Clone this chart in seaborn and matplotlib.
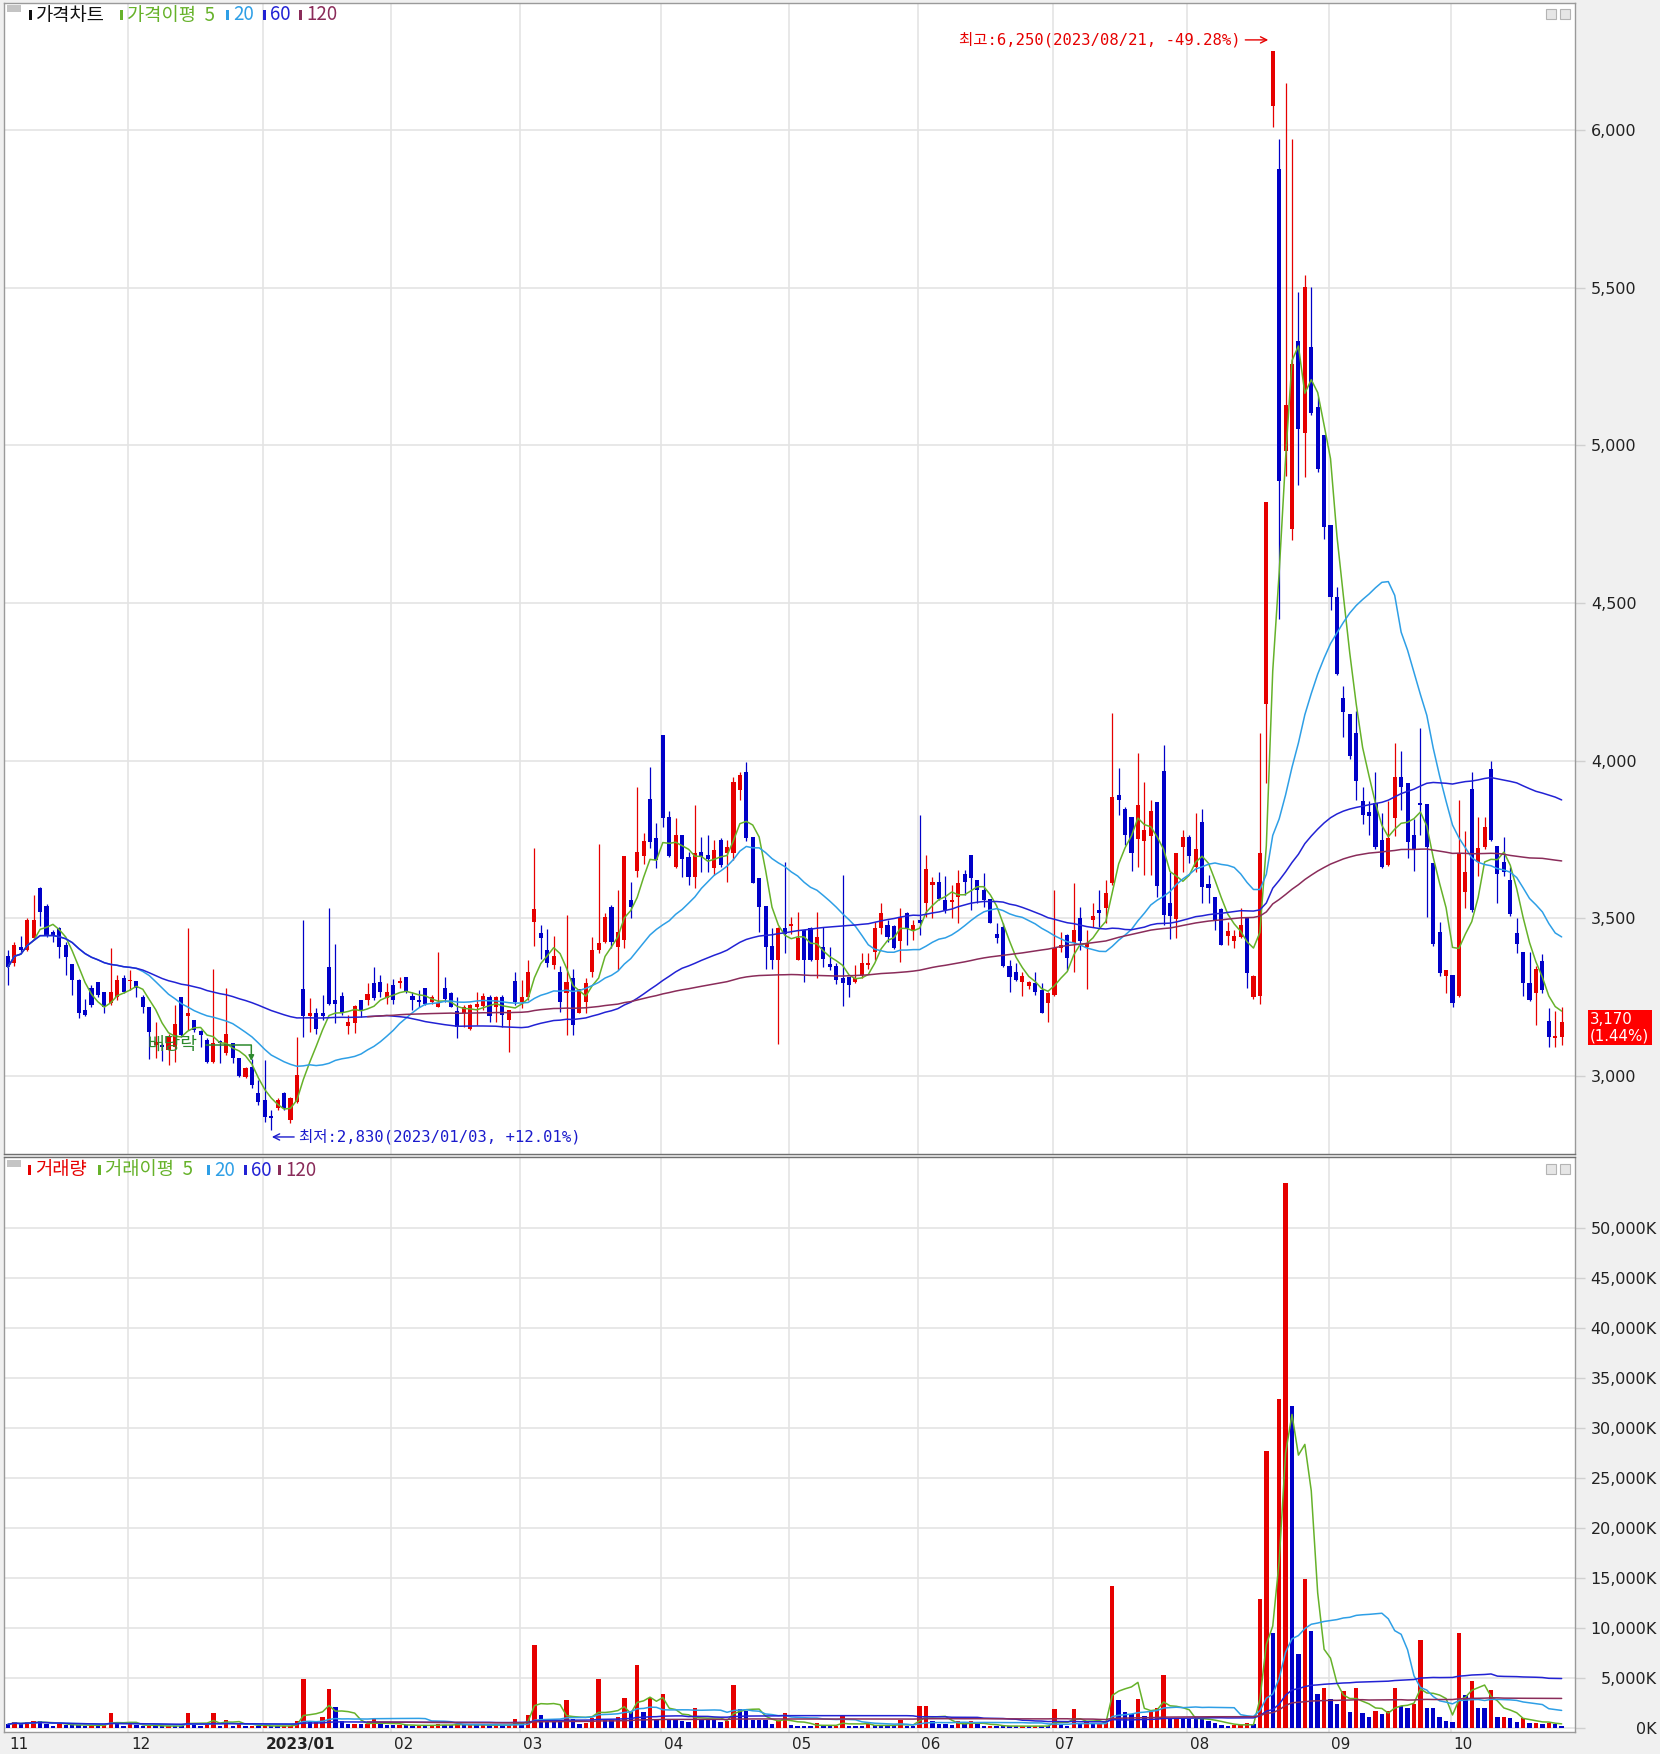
import numpy as np
import pandas as pd
import matplotlib
matplotlib.use("Agg")
import matplotlib.pyplot as plt
import matplotlib.transforms as mtransforms
from matplotlib.patches import Rectangle
import seaborn as sns

# ---------------- data ----------------
opens = [
    3380, 3357, 3410, 3400, 3437, 3597, 3540, 3458, 3470, 3415,
    3354, 3306, 3211, 3278, 3297, 3267, 3233, 3252, 3310, 3300,
    3300, 3252, 3218, 3098, 3100, 3082, 3093, 3252, 3190, 3178,
    3143, 3114, 3045, 3110, 3072, 3104, 3056, 2998, 3030, 2947,
    2924, 2874, 2898, 2945, 2862, 2919, 3275, 3191, 3199, 3199,
    3347, 3241, 3254, 3159, 3167, 3241, 3241, 3294, 3297, 3246,
    3289, 3296, 3313, 3255, 3241, 3278, 3236, 3220, 3278, 3262,
    3207, 3201, 3148, 3220, 3222, 3250, 3220, 3252, 3178, 3302,
    3236, 3252, 3489, 3455, 3400, 3352, 3331, 3262, 3310, 3199,
    3236, 3331, 3400, 3426, 3537, 3410, 3431, 3558, 3651, 3698,
    3877, 3754, 4081, 3820, 3664, 3764, 3696, 3630, 3711, 3701,
    3659, 3748, 3706, 3706, 3907, 3965, 3759, 3627, 3539, 3412,
    3368, 3468, 3476, 3368, 3463, 3468, 3368, 3410, 3355, 3349,
    3310, 3315, 3299, 3320, 3352, 3394, 3468, 3479, 3476, 3429,
    3516, 3461, 3495, 3548, 3606, 3616, 3558, 3553, 3569, 3640,
    3701, 3622, 3590, 3563, 3449, 3474, 3349, 3331, 3299, 3285,
    3296, 3273, 3233, 3257, 3405, 3447, 3421, 3500, 3410, 3495,
    3526, 3532, 3611, 3891, 3846, 3820, 3751, 3746, 3762, 3868,
    3968, 3550, 3497, 3727, 3759, 3662, 3807, 3608, 3569, 3529,
    3444, 3429, 3440, 3500, 3250, 3254, 4180, 6075, 5877, 4983,
    4734, 5329, 5040, 5311, 5120, 5032, 4746, 4520, 4199, 4148,
    4089, 3873, 3837, 3867, 3748, 3668, 3818, 3947, 3930, 3765,
    3867, 3862, 3674, 3458, 3316, 3322, 3254, 3583, 3909, 3680,
    3725, 3973, 3728, 3680, 3623, 3455, 3393, 3294, 3262, 3364,
    3174, 3120, 3125,
]
highs = [
    3400, 3425, 3445, 3500, 3575, 3600, 3545, 3463, 3474, 3426,
    3355, 3307, 3243, 3289, 3297, 3267, 3407, 3320, 3320, 3336,
    3300, 3257, 3218, 3172, 3104, 3135, 3225, 3252, 3470, 3178,
    3146, 3120, 3341, 3114, 3278, 3106, 3056, 3030, 3053, 2987,
    3050, 2892, 2929, 2950, 2934, 3125, 3495, 3246, 3215, 3257,
    3532, 3420, 3267, 3194, 3225, 3241, 3294, 3345, 3320, 3294,
    3307, 3315, 3315, 3267, 3273, 3278, 3257, 3394, 3313, 3267,
    3252, 3225, 3230, 3267, 3262, 3257, 3254, 3257, 3211, 3331,
    3304, 3368, 3722, 3479, 3465, 3444, 3349, 3511, 3341, 3275,
    3310, 3440, 3736, 3518, 3542, 3590, 3698, 3616, 3918, 3770,
    3979, 3801, 4081, 3841, 3817, 3764, 3711, 3859, 3757, 3764,
    3748, 3754, 3748, 3949, 3965, 3997, 3759, 3627, 3539, 3468,
    3474, 3680, 3505, 3521, 3463, 3474, 3521, 3474, 3410, 3357,
    3637, 3315, 3352, 3389, 3389, 3489, 3548, 3495, 3479, 3532,
    3521, 3495, 3828, 3701, 3632, 3648, 3634, 3606, 3653, 3653,
    3701, 3622, 3643, 3563, 3484, 3484, 3368, 3359, 3331, 3302,
    3331, 3294, 3267, 3590, 3458, 3452, 3613, 3537, 3463, 3548,
    3590, 3622, 4150, 3976, 3854, 3822, 4023, 3933, 3875, 3868,
    4050, 3648, 3708, 3780, 3764, 3835, 3846, 3637, 3569, 3532,
    3489, 3463, 3532, 3500, 3320, 4087, 4819, 6250, 5970, 6148,
    5970, 5487, 5541, 5501, 5153, 5032, 4746, 4549, 4236, 4148,
    4159, 3918, 3873, 3964, 3833, 3873, 4055, 4032, 3930, 3816,
    4102, 3862, 3674, 3487, 3337, 3322, 3875, 3776, 3964, 3822,
    3822, 4000, 3728, 3757, 3663, 3500, 3393, 3393, 3350, 3387,
    3216, 3205, 3220,
]
lows = [
    3290, 3350, 3390, 3395, 3430, 3475, 3440, 3426, 3373, 3320,
    3257, 3183, 3190, 3220, 3252, 3199, 3225, 3241, 3262, 3273,
    3252, 3199, 3053, 3056, 3049, 3035, 3045, 3125, 3145, 3141,
    3093, 3043, 3043, 3043, 3067, 3040, 2998, 2993, 2961, 2908,
    2855, 2830, 2892, 2892, 2850, 2914, 3125, 3141, 3135, 3178,
    3225, 3167, 3194, 3135, 3137, 3188, 3225, 3241, 3252, 3230,
    3230, 3278, 3262, 3209, 3218, 3225, 3230, 3218, 3236, 3218,
    3120, 3157, 3146, 3162, 3209, 3172, 3172, 3157, 3077, 3225,
    3215, 3241, 3412, 3370, 3347, 3338, 3204, 3130, 3130, 3199,
    3199, 3315, 3389, 3421, 3405, 3336, 3405, 3500, 3632, 3672,
    3722, 3659, 3791, 3696, 3659, 3632, 3606, 3595, 3648, 3648,
    3637, 3664, 3616, 3685, 3875, 3746, 3611, 3458, 3338, 3338,
    3102, 3389, 3452, 3368, 3299, 3366, 3310, 3347, 3336, 3292,
    3222, 3252, 3294, 3310, 3341, 3368, 3450, 3426, 3402, 3362,
    3416, 3431, 3447, 3505, 3500, 3558, 3518, 3500, 3486, 3574,
    3526, 3548, 3537, 3484, 3421, 3347, 3267, 3302, 3254, 3275,
    3257, 3199, 3172, 3254, 3394, 3336, 3331, 3400, 3275, 3474,
    3474, 3484, 3606, 3828, 3733, 3651, 3662, 3637, 3637, 3569,
    3479, 3434, 3437, 3648, 3674, 3648, 3548, 3548, 3463, 3416,
    3416, 3405, 3437, 3278, 3243, 3230, 3930, 6010, 4449, 4904,
    4698, 4874, 4898, 5095, 4916, 4704, 4479, 4270, 4075, 4004,
    3875, 3799, 3765, 3720, 3659, 3666, 3762, 3845, 3691, 3651,
    3765, 3504, 3413, 3316, 3262, 3220, 3250, 3532, 3521, 3634,
    3720, 3745, 3549, 3634, 3509, 3390, 3254, 3237, 3163, 3262,
    3091, 3091, 3100,
]
closes = [
    3345, 3415, 3400, 3495, 3495, 3521, 3447, 3447, 3410, 3378,
    3304, 3199, 3193, 3225, 3257, 3220, 3267, 3304, 3267, 3305,
    3280, 3220, 3141, 3108, 3093, 3125, 3165, 3130, 3200, 3146,
    3130, 3045, 3104, 3104, 3135, 3056, 3000, 3025, 2972, 2919,
    2871, 2866, 2924, 2898, 2929, 3003, 3191, 3199, 3149, 3191,
    3230, 3230, 3204, 3170, 3222, 3209, 3260, 3246, 3267, 3267,
    3241, 3302, 3267, 3241, 3236, 3228, 3250, 3233, 3243, 3220,
    3157, 3220, 3225, 3228, 3254, 3190, 3250, 3193, 3211, 3236,
    3252, 3331, 3530, 3437, 3357, 3381, 3236, 3299, 3162, 3275,
    3296, 3400, 3421, 3505, 3426, 3458, 3698, 3537, 3711, 3746,
    3743, 3685, 3817, 3698, 3764, 3687, 3630, 3706, 3696, 3687,
    3717, 3669, 3727, 3933, 3955, 3754, 3611, 3537, 3408, 3368,
    3468, 3452, 3482, 3437, 3368, 3368, 3442, 3370, 3345, 3305,
    3294, 3289, 3310, 3359, 3359, 3471, 3518, 3442, 3405, 3505,
    3471, 3479, 3484, 3655, 3616, 3563, 3526, 3558, 3611, 3616,
    3627, 3590, 3558, 3484, 3437, 3349, 3313, 3304, 3317, 3297,
    3268, 3201, 3262, 3405, 3416, 3373, 3463, 3429, 3418, 3508,
    3518, 3579, 3884, 3875, 3764, 3708, 3859, 3780, 3841, 3603,
    3511, 3507, 3708, 3759, 3699, 3719, 3600, 3595, 3495, 3416,
    3461, 3445, 3479, 3328, 3317, 3708, 4819, 6250, 4886, 5129,
    5258, 5050, 5501, 5101, 4926, 4740, 4518, 4276, 4155, 4015,
    3935, 3827, 3825, 3725, 3663, 3754, 3947, 3918, 3742, 3720,
    3859, 3725, 3419, 3328, 3337, 3231, 3708, 3646, 3526, 3723,
    3791, 3750, 3640, 3646, 3515, 3419, 3294, 3242, 3339, 3273,
    3123, 3125, 3170,
]
volumes_k = [
    400, 630, 400, 630, 730, 730, 470, 230, 500, 300,
    300, 300, 280, 300, 280, 300, 1500, 470, 230, 470,
    300, 230, 260, 230, 220, 240, 230, 220, 1500, 300,
    280, 300, 1500, 230, 830, 230, 570, 230, 240, 230,
    250, 230, 220, 230, 240, 730, 4970, 630, 730, 1170,
    3900, 2130, 730, 400, 430, 400, 420, 900, 400, 380,
    300, 320, 300, 280, 300, 280, 300, 400, 350, 300,
    450, 300, 330, 300, 330, 300, 320, 300, 330, 900,
    500, 1300, 8300, 1330, 730, 720, 700, 2830, 900, 470,
    570, 1070, 4970, 830, 820, 1170, 3000, 1630, 6300, 1630,
    3000, 970, 3470, 970, 960, 730, 630, 2070, 830, 820,
    810, 630, 730, 4330, 1900, 1730, 830, 820, 810, 400,
    830, 1500, 300, 230, 230, 220, 570, 230, 220, 230,
    1300, 230, 220, 210, 400, 380, 230, 220, 210, 830,
    230, 220, 2230, 2240, 730, 400, 390, 300, 730, 400,
    730, 400, 230, 240, 230, 220, 210, 200, 230, 220,
    230, 220, 210, 1900, 330, 230, 1890, 430, 660, 430,
    450, 660, 14230, 2810, 1590, 1420, 2910, 1260, 1650, 2050,
    5300, 990, 1000, 980, 970, 960, 950, 700, 500, 330,
    230, 330, 340, 500, 400, 12930, 27740, 9530, 32900, 54500,
    32270, 7390, 14890, 9710, 3460, 4070, 2930, 2460, 3750, 1680,
    4070, 1550, 1160, 1720, 1420, 1750, 4070, 2220, 2050, 2480,
    8870, 2050, 2040, 1160, 760, 660, 9500, 3380, 4700, 2050,
    2000, 3800, 1160, 1170, 990, 660, 990, 560, 570, 430,
    560, 430, 230,
]
month_labels = ["11", "12", "2023/01", "02", "03", "04", "05", "06", "07", "08", "09", "10"]
month_start_idx = [0, 19, 40, 60, 80, 102, 122, 142, 163, 184, 206, 225]
price_ticks = [3000, 3500, 4000, 4500, 5000, 5500, 6000]
volume_ticks = [0, 5000, 10000, 15000, 20000, 25000, 30000, 35000, 40000, 45000, 50000]
ma_windows = [5, 20, 60, 120]
ma120_first_idx = 56
high_date = "2023/08/21"
low_date = "2023/01/03"
ex_dividend_idx = 38

# ---------------- style ----------------
RED = "#e60000"
BLUE = "#0000c8"
MA_COLORS = ["#66b22a", "#2e9fe6", "#2222d4", "#8a2c5a"]
GRID = "#e4e4e4"
MONO = ["DejaVu Sans Mono", "Noto Sans CJK KR"]

sns.set_theme(style="white")
plt.rcParams["font.family"] = ["Noto Sans CJK KR", "DejaVu Sans"]
plt.rcParams["axes.unicode_minus"] = False

W, H = 1660, 1754
fig = plt.figure(figsize=(W / 100, H / 100), dpi=100, facecolor="#f0f0f0")


def fx(px):
    return px / W


def fy(py):
    return 1 - py / H


ax = fig.add_axes([fx(4), fy(1154), fx(1575) - fx(4), fy(3) - fy(1154)])
axv = fig.add_axes([fx(4), fy(1732), fx(1575) - fx(4), fy(1157) - fy(1732)])

df = pd.DataFrame({"o": opens, "h": highs, "l": lows, "c": closes, "v": volumes_k})
df["x"] = np.arange(len(df))
xlim = ((4 - 8) / 6.42, (1575 - 8) / 6.42)

# ---------------- price panel ----------------
up = df["c"] >= df["o"]
ccol = np.where(up, RED, BLUE)
ax.vlines(df["x"], df["l"], df["h"], colors=ccol, linewidth=0.9, zorder=3)
body_h = np.maximum((df["c"] - df["o"]).abs(), 6)
ax.bar(df["x"], body_h, bottom=np.minimum(df["o"], df["c"]), width=0.64,
       color=ccol, linewidth=0, zorder=4)

for w, col in zip(ma_windows, MA_COLORS):
    ma = df["c"].rolling(w, min_periods=1).mean()
    if w == 120:
        ma.iloc[:ma120_first_idx] = np.nan
    sns.lineplot(x=df["x"], y=ma, ax=ax, color=col, linewidth=1.1, legend=False, zorder=5)

ax.set_xlim(*xlim)
ax.set_ylim(2753, 6402)
ax.set_xlabel("")
ax.set_ylabel("")
ax.set_xticks([])
ax.yaxis.tick_right()
ax.set_yticks(price_ticks)
ax.set_yticklabels([f"{t:,}" for t in price_ticks], fontsize=11.5, color="#222222",
                   family="DejaVu Sans")
ax.tick_params(axis="y", which="both", right=True, length=7, width=1, color="#d0d0d0", pad=4.5)
ax.grid(True, axis="y", color=GRID, linewidth=1.2)
ax.set_axisbelow(True)
for m in month_start_idx[1:]:
    ax.axvline(m - 0.3, color=GRID, linewidth=1.2, zorder=0)
    axv.axvline(m - 0.3, color=GRID, linewidth=1.2, zorder=0)
ax.set_facecolor("white")

# annotations: high / low / ex-dividend
imax = int(df["h"].idxmax())
imin = int(df["l"].idxmin())
last = closes[-1]
pct_hi = (last / highs[imax] - 1) * 100
pct_lo = (last / lows[imin] - 1) * 100
ax.annotate(f"최고:{highs[imax]:,}({high_date}, {pct_hi:.2f}%)",
            xy=(imax - 0.7, highs[imax] + 35), xytext=(imax - 5.0, highs[imax] + 35),
            ha="right", va="center", fontsize=11.2, color=RED, family=MONO,
            arrowprops=dict(arrowstyle="->", color=RED, lw=1.0, shrinkA=1, shrinkB=0))
ax.annotate(f"최저:{lows[imin]:,}({low_date}, +{pct_lo:.2f}%)",
            xy=(imin + 0.1, lows[imin] - 23), xytext=(imin + 4.3, lows[imin] - 23),
            ha="left", va="center", fontsize=11.2, color="#1a1acc", family=MONO,
            arrowprops=dict(arrowstyle="->", color="#1a1acc", lw=1.0, shrinkA=1, shrinkB=0))
GREEN_D = "#2d8a2d"
ax.text(ex_dividend_idx - 16.3, 3098, "배당락", ha="left", va="center", fontsize=13,
        color=GREEN_D, zorder=6)
ax.plot([ex_dividend_idx - 7.2, ex_dividend_idx - 0.1], [3098, 3098], color=GREEN_D, lw=1.1, zorder=6)
ax.annotate("", xy=(ex_dividend_idx - 0.1, 3048), xytext=(ex_dividend_idx - 0.1, 3098),
            arrowprops=dict(arrowstyle="-|>", color=GREEN_D, lw=1.1, mutation_scale=8,
                            shrinkA=0, shrinkB=0), zorder=6)

# last price box
pct_last = (closes[-1] / closes[-2] - 1) * 100
ax.annotate(f"{closes[-1]:,}\n({pct_last:.2f}%)", xy=(1, closes[-1]),
            xycoords=ax.get_yaxis_transform(), xytext=(15, 10), textcoords="offset pixels",
            ha="left", va="top", fontsize=10.8, color="white", family="DejaVu Sans",
            linespacing=1.05, annotation_clip=False,
            bbox=dict(boxstyle="square,pad=0.15", fc="#ff0000", ec="none"))

# ---------------- volume panel ----------------
vcol = np.where(df["v"] > df["v"].shift(1), RED, BLUE)
axv.bar(df["x"], df["v"], width=0.68, color=vcol, linewidth=0, zorder=3)
for w, col in zip(ma_windows, MA_COLORS):
    ma = df["v"].rolling(w, min_periods=1).mean()
    if w == 120:
        ma.iloc[:ma120_first_idx] = np.nan
    sns.lineplot(x=df["x"], y=ma, ax=axv, color=col, linewidth=1.1, legend=False, zorder=5)
axv.set_xlim(*xlim)
axv.set_ylim(-370, 57130)
axv.set_xlabel("")
axv.set_ylabel("")
axv.set_xticks([])
axv.yaxis.tick_right()
axv.set_yticks(volume_ticks)
axv.set_yticklabels([f"{t:,}K" for t in volume_ticks], fontsize=11.5, color="#222222",
                    family="DejaVu Sans")
axv.tick_params(axis="y", which="both", right=True, length=7, width=1, color="#d0d0d0", pad=52)
plt.setp(axv.get_yticklabels(), ha="right")
axv.grid(True, axis="y", color=GRID, linewidth=1.2)
axv.set_axisbelow(True)
axv.set_facecolor("white")

trans = mtransforms.blended_transform_factory(axv.transData, axv.transAxes)
for lab, m in zip(month_labels, month_start_idx):
    axv.text(m + 0.15, -0.0215, lab, transform=trans, ha="left", va="center",
             fontsize=11, color="#222222", family="DejaVu Sans",
             fontweight="bold" if "/" in lab else "normal", clip_on=False)

for a in (ax, axv):
    for s in a.spines.values():
        s.set_color("#9a9a9a")
        s.set_linewidth(1.0)
ax.spines["bottom"].set_color("#707070")
axv.spines["top"].set_color("#707070")


# ---------------- headers ----------------
def header(y, items):
    fig.add_artist(Rectangle((fx(7), fy(y - 3)), fx(14), 7 / H, transform=fig.transFigure,
                             fc="#c4c4c4", ec="none"))
    for bx, txt, col in items:
        fig.add_artist(Rectangle((fx(bx), fy(y + 5)), fx(3), 10 / H,
                                 transform=fig.transFigure, fc=col, ec="none"))
        fig.text(fx(bx + 7), fy(y), txt, ha="left", va="center", fontsize=13.5, color=col)
    for ix in (1546, 1560):
        fig.add_artist(Rectangle((fx(ix), fy(y + 4)), fx(10), 10 / H, transform=fig.transFigure,
                                 fc="#e6e6e6", ec="#b4b4b4", lw=0.8))


header(15, [(29, "가격차트", "#111111"), (120, "가격이평  5", MA_COLORS[0]),
            (226, "20", MA_COLORS[1]), (263, "60", MA_COLORS[2]), (299, "120", MA_COLORS[3])])
header(1170, [(28, "거래량", RED), (98, "거래이평  5", MA_COLORS[0]),
              (207, "20", MA_COLORS[1]), (244, "60", MA_COLORS[2]), (278, "120", MA_COLORS[3])])

fig.savefig("out.png", dpi=100, facecolor=fig.get_facecolor())
